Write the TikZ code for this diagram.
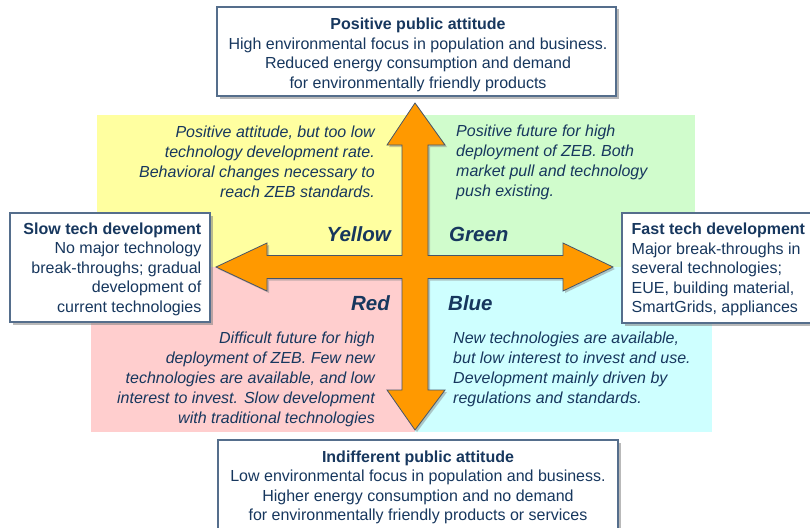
\documentclass[tikz,border=0pt]{standalone}
\usepackage{fontspec}
\setmainfont{Liberation Sans}
\usetikzlibrary{shadows}
\definecolor{navy}{RGB}{23,55,94}
\definecolor{boxline}{RGB}{85,110,140}
\definecolor{qyellow}{RGB}{255,255,160}
\definecolor{qgreen}{RGB}{208,252,204}
\definecolor{qred}{RGB}{255,206,206}
\definecolor{qblue}{RGB}{206,255,255}
\definecolor{arroworange}{RGB}{255,153,0}
\definecolor{arrowline}{RGB}{70,85,105}
\begin{document}
\begin{tikzpicture}[x=1pt,y=-1pt,
  qtxt/.style={inner sep=0pt, text=navy, font=\fontsize{16}{20}\selectfont\itshape},
  boxtxt/.style={inner sep=0pt, text=navy, font=\fontsize{16}{19.5}\selectfont},
  qlabel/.style={inner sep=0pt, text=navy, font=\fontsize{20.5}{24}\selectfont\bfseries\itshape},
  infobox/.style={draw=boxline, line width=1.3pt, fill=white,
    drop shadow={shadow xshift=2.5pt, shadow yshift=-2.5pt, fill=black!50, opacity=0.55}},
  crossarrow/.style={fill=arroworange, draw=arrowline, line width=0.8pt, line join=miter,
    drop shadow={shadow xshift=2pt, shadow yshift=-2pt, fill=black!50, opacity=0.45}}
]
\path[use as bounding box, clip] (0,0) rectangle (810,527);

% quadrants
\fill[qyellow] (97,115) rectangle (415,267);
\fill[qgreen] (415,115) rectangle (695,267);
\fill[qred] (91,267) rectangle (415,432);
\fill[qblue] (415,267) rectangle (712,432);

% quadrant texts
\node[qtxt, align=right, anchor=north east] (ytext) at (375,125.5)
  {Positive attitude, but too low\\technology development rate.\\Behavioral changes necessary to\\reach ZEB standards.};
\node[qtxt, align=left, anchor=north west] (gtext) at (456,124.5)
  {Positive future for high\\deployment of ZEB. Both\\market pull and technology\\push existing.};
\node[qtxt, align=right, anchor=north east] (rtext) at (375,331.3)
  {Difficult future for high\\deployment of ZEB. Few new\\technologies are available, and low\\interest to invest. Slow development\\with traditional technologies};
\node[qtxt, align=left, anchor=north west] (btext) at (453,331.3)
  {New technologies are available,\\but low interest to invest and use.\\Development mainly driven by\\regulations and standards.};

% cross arrow
\path[crossarrow] (415,103) -- (445,145) -- (428,145) -- (428,255.5) -- (563,255.5)
  -- (563,243) -- (613,267) -- (563,291) -- (563,278.5) -- (428,278.5) -- (428,390)
  -- (445,390) -- (415,430) -- (387,390) -- (402,390) -- (402,278.5) -- (267,278.5)
  -- (267,291) -- (216,267) -- (267,243) -- (267,255.5) -- (402,255.5) -- (402,145)
  -- (387,145) -- cycle;

% quadrant labels
\node[qlabel, anchor=base east] (ylabel) at (391,241.7) {Yellow};
\node[qlabel, anchor=base west] (glabel) at (449,241.7) {Green};
\node[qlabel, anchor=base east] (rlabel) at (390,310) {Red};
\node[qlabel, anchor=base west] (blabel) at (448,310) {Blue};

% boxes
\path[infobox] (217,7) rectangle (616,96);
\node[boxtxt, align=center, anchor=north] (top) at (418,17.8)
  {\textbf{Positive public attitude}\\High environmental focus in population and business.\\Reduced energy consumption and demand\\for environmentally friendly products};

\path[infobox] (218,440) rectangle (618,540);
\node[boxtxt, align=center, anchor=north] (bottom) at (418,450.2)
  {\textbf{Indifferent public attitude}\\Low environmental focus in population and business.\\Higher energy consumption and no demand\\for environmentally friendly products or services};

\path[infobox] (10,213) rectangle (210,322);
\node[boxtxt, align=right, anchor=north east] (slow) at (201.5,222.5)
  {\textbf{Slow tech development}\\No major technology\\break-throughs; gradual\\development of \\current technologies};

\path[infobox] (622,213) rectangle (830,323);
\node[boxtxt, align=left, anchor=north west] (fast) at (631.5,222.8)
  {\textbf{Fast tech development}\\Major break-throughs in\\several technologies;\\EUE, building material,\\SmartGrids, appliances};
\end{tikzpicture}
\end{document}
